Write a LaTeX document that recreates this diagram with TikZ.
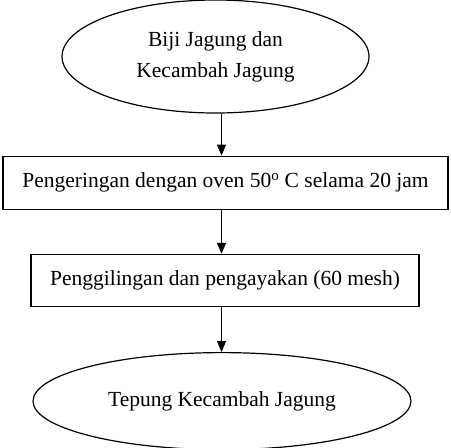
\documentclass[tikz,border=0pt]{standalone}
\usepackage{fontspec}
\setmainfont{Liberation Serif}
\usepackage{tikz}
\usetikzlibrary{shapes.geometric, arrows.meta, positioning}
\definecolor{flowblack}{RGB}{0,0,0}

\begin{document}
\begin{tikzpicture}[
  x=1pt, y=1pt,
  node distance=43pt,
  terminal/.style={draw=flowblack, ellipse, line width=1.2pt, inner sep=0pt,
                   font=\fontsize{21.5}{31}\selectfont, align=center},
  process/.style={draw=flowblack, rectangle, line width=1.2pt, inner sep=0pt,
                  font=\fontsize{21.5}{24}\selectfont, text centered},
  arrow/.style={-{Triangle[length=11pt,width=9pt]}, line width=1.2pt, flowblack}
]
\useasboundingbox (0,0) rectangle (451,-448);

% Flow: raw material to flour
\node[terminal, minimum width=307pt, minimum height=113pt] (seed) at (215.5,-56.5)
  {Biji Jagung dan\\Kecambah Jagung};
\node[process, minimum width=445pt, minimum height=53pt, below=42pt of seed, xshift=10pt] (dry)
  {Pengeringan dengan oven 50\textsuperscript{o} C selama 20 jam};
\node[process, minimum width=388pt, minimum height=52pt, below=44pt of dry, xshift=-0.5pt] (mill)
  {Penggilingan dan pengayakan (60 mesh)};
\node[terminal, minimum width=378pt, minimum height=97pt, below=45pt of mill, xshift=-3pt] (flour)
  {Tepung Kecambah Jagung};

% Arrows along one axis
\coordinate (axis) at (221.5,0);
\draw[arrow] (seed.south -| axis) -- (dry.north -| axis);
\draw[arrow] (dry.south -| axis) -- (mill.north -| axis);
\draw[arrow] (mill.south -| axis) -- (flour.north -| axis);

\end{tikzpicture}
\end{document}
